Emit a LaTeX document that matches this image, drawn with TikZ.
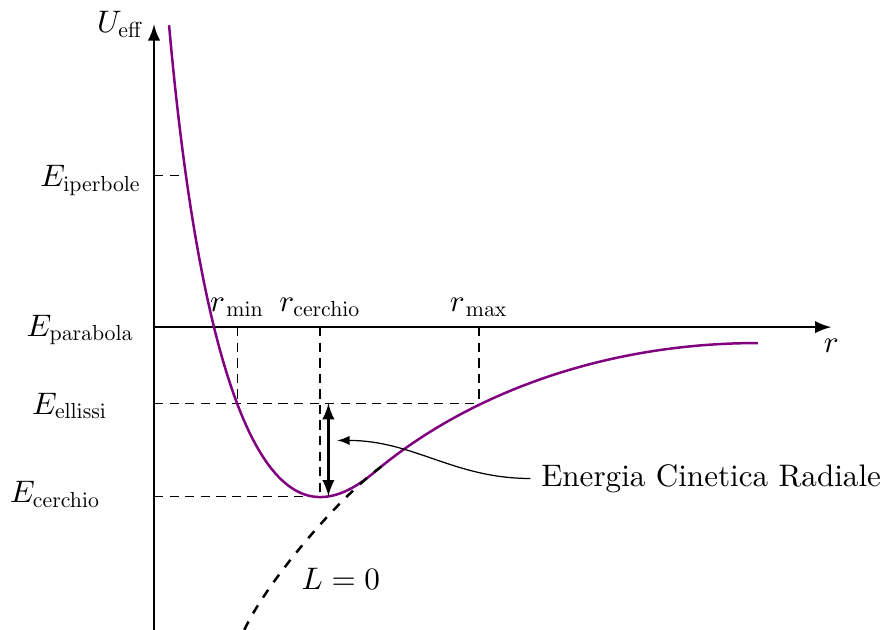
\documentclass[tikz,border=0pt]{standalone}
\usepackage{amsmath}
\usepackage{xcolor}
\usetikzlibrary{arrows.meta,positioning,calc}

% subscripts set in the 10pt design, scaled down
\DeclareFontFamily{OT1}{cmten}{}
\DeclareFontShape{OT1}{cmten}{m}{n}{<-> cmr10}{}
\newcommand{\pedice}[1]{\text{\usefont{OT1}{cmten}{m}{n}#1}}

\begin{document}
\begin{tikzpicture}[
        >=latex,
        axis/.style={->, thick},
        guide/.style={densely dashed, thin},
        potential/.style={thick, violet},
        kepler/.style={thick, dashed},
        level/.style={anchor=east}
    ]
        \useasboundingbox (-1.74,-3.42) rectangle (8.28,3.695);

        % Axes
        \coordinate (O) at (0,0);
        \coordinate (ytop) at (0,3.42);
        \coordinate (ybot) at (0,-3.42);
        \coordinate (xend) at (7.65,0);
        \draw[axis] (ybot) -- (ytop) node[left] (ueff) {$U_{\pedice{eff}}$};
        \draw[axis] (O) -- (xend) node[below] (r) {$r$};

        % Points on the axes and on the curve
        \coordinate (Eip) at (0,1.71);
        \coordinate (Eel) at (0,-0.86);
        \coordinate (Ece) at (0,-1.91);
        \coordinate (pip) at (0.35,1.71);
        \coordinate (pmin) at (0.94,-0.86);
        \coordinate (pmax) at (3.67,-0.86);
        \coordinate (pce) at (1.876,-1.91);
        \coordinate (rmin) at (0.94,0);
        \coordinate (rce) at (1.876,0);
        \coordinate (rmax) at (3.67,0);

        % Dashed guides
        \draw[guide] (Eip) -- (pip);
        \draw[guide] (Eel) -- (pmax);
        \draw[guide] (Ece) -- (pce);
        \draw[guide] (rmin) -- (pmin);
        \draw[guide] (rce) -- (pce);
        \draw[guide] (rmax) -- (pmax);

        % Energy labels
        \node[level] (lip) at (-0.02,1.66) {$E_{\pedice{iperbole}}$};
        \node[level] (lpa) at (-0.10,-0.034) {$E_{\pedice{parabola}}$};
        \node[level] (lel) at (-0.40,-0.89) {$E_{\pedice{ellissi}}$};
        \node[level] (lce) at (-0.48,-1.89) {$E_{\pedice{cerchio}}$};

        % Radius labels
        \node[above] (lrmin) at (rmin) {$r_{\mskip1.5mu\pedice{min}}$};
        \node[above] (lrce) at (rce) {$r_{\pedice{cerchio}}$};
        \node[above] (lrmax) at (rmax) {$r_{\mskip1.5mu\pedice{max}}$};

        % Effective potential
        \draw[potential] (0.17,3.41) .. controls (0.40,0.82) and (0.88,-1.92) .. (1.876,-1.92)
            .. controls (2.126,-1.92) and (2.347,-1.759) .. (2.5,-1.63)
            .. controls (3.496,-0.794) and (5.02,-0.18) .. (6.82,-0.18);

        % L = 0
        \draw[kepler] (1.02,-3.42) .. controls (1.274,-2.876) and (2.099,-1.904) .. (2.59,-1.56);
        \node (lzero) at (2.11,-2.84) {$L=0$};

        % Radial kinetic energy
        \coordinate (ktop) at (1.97,-0.86);
        \coordinate (kbot) at (1.97,-1.91);
        \coordinate (ktip) at (2.07,-1.28);
        \draw[<->, thick] (ktop) -- (kbot);
        \node[anchor=west] (kin) at (4.25,-1.71) {Energia Cinetica Radiale};
        \draw[->] (kin.west) to[out=180, in=0] (ktip);

    \end{tikzpicture}
\end{document}
